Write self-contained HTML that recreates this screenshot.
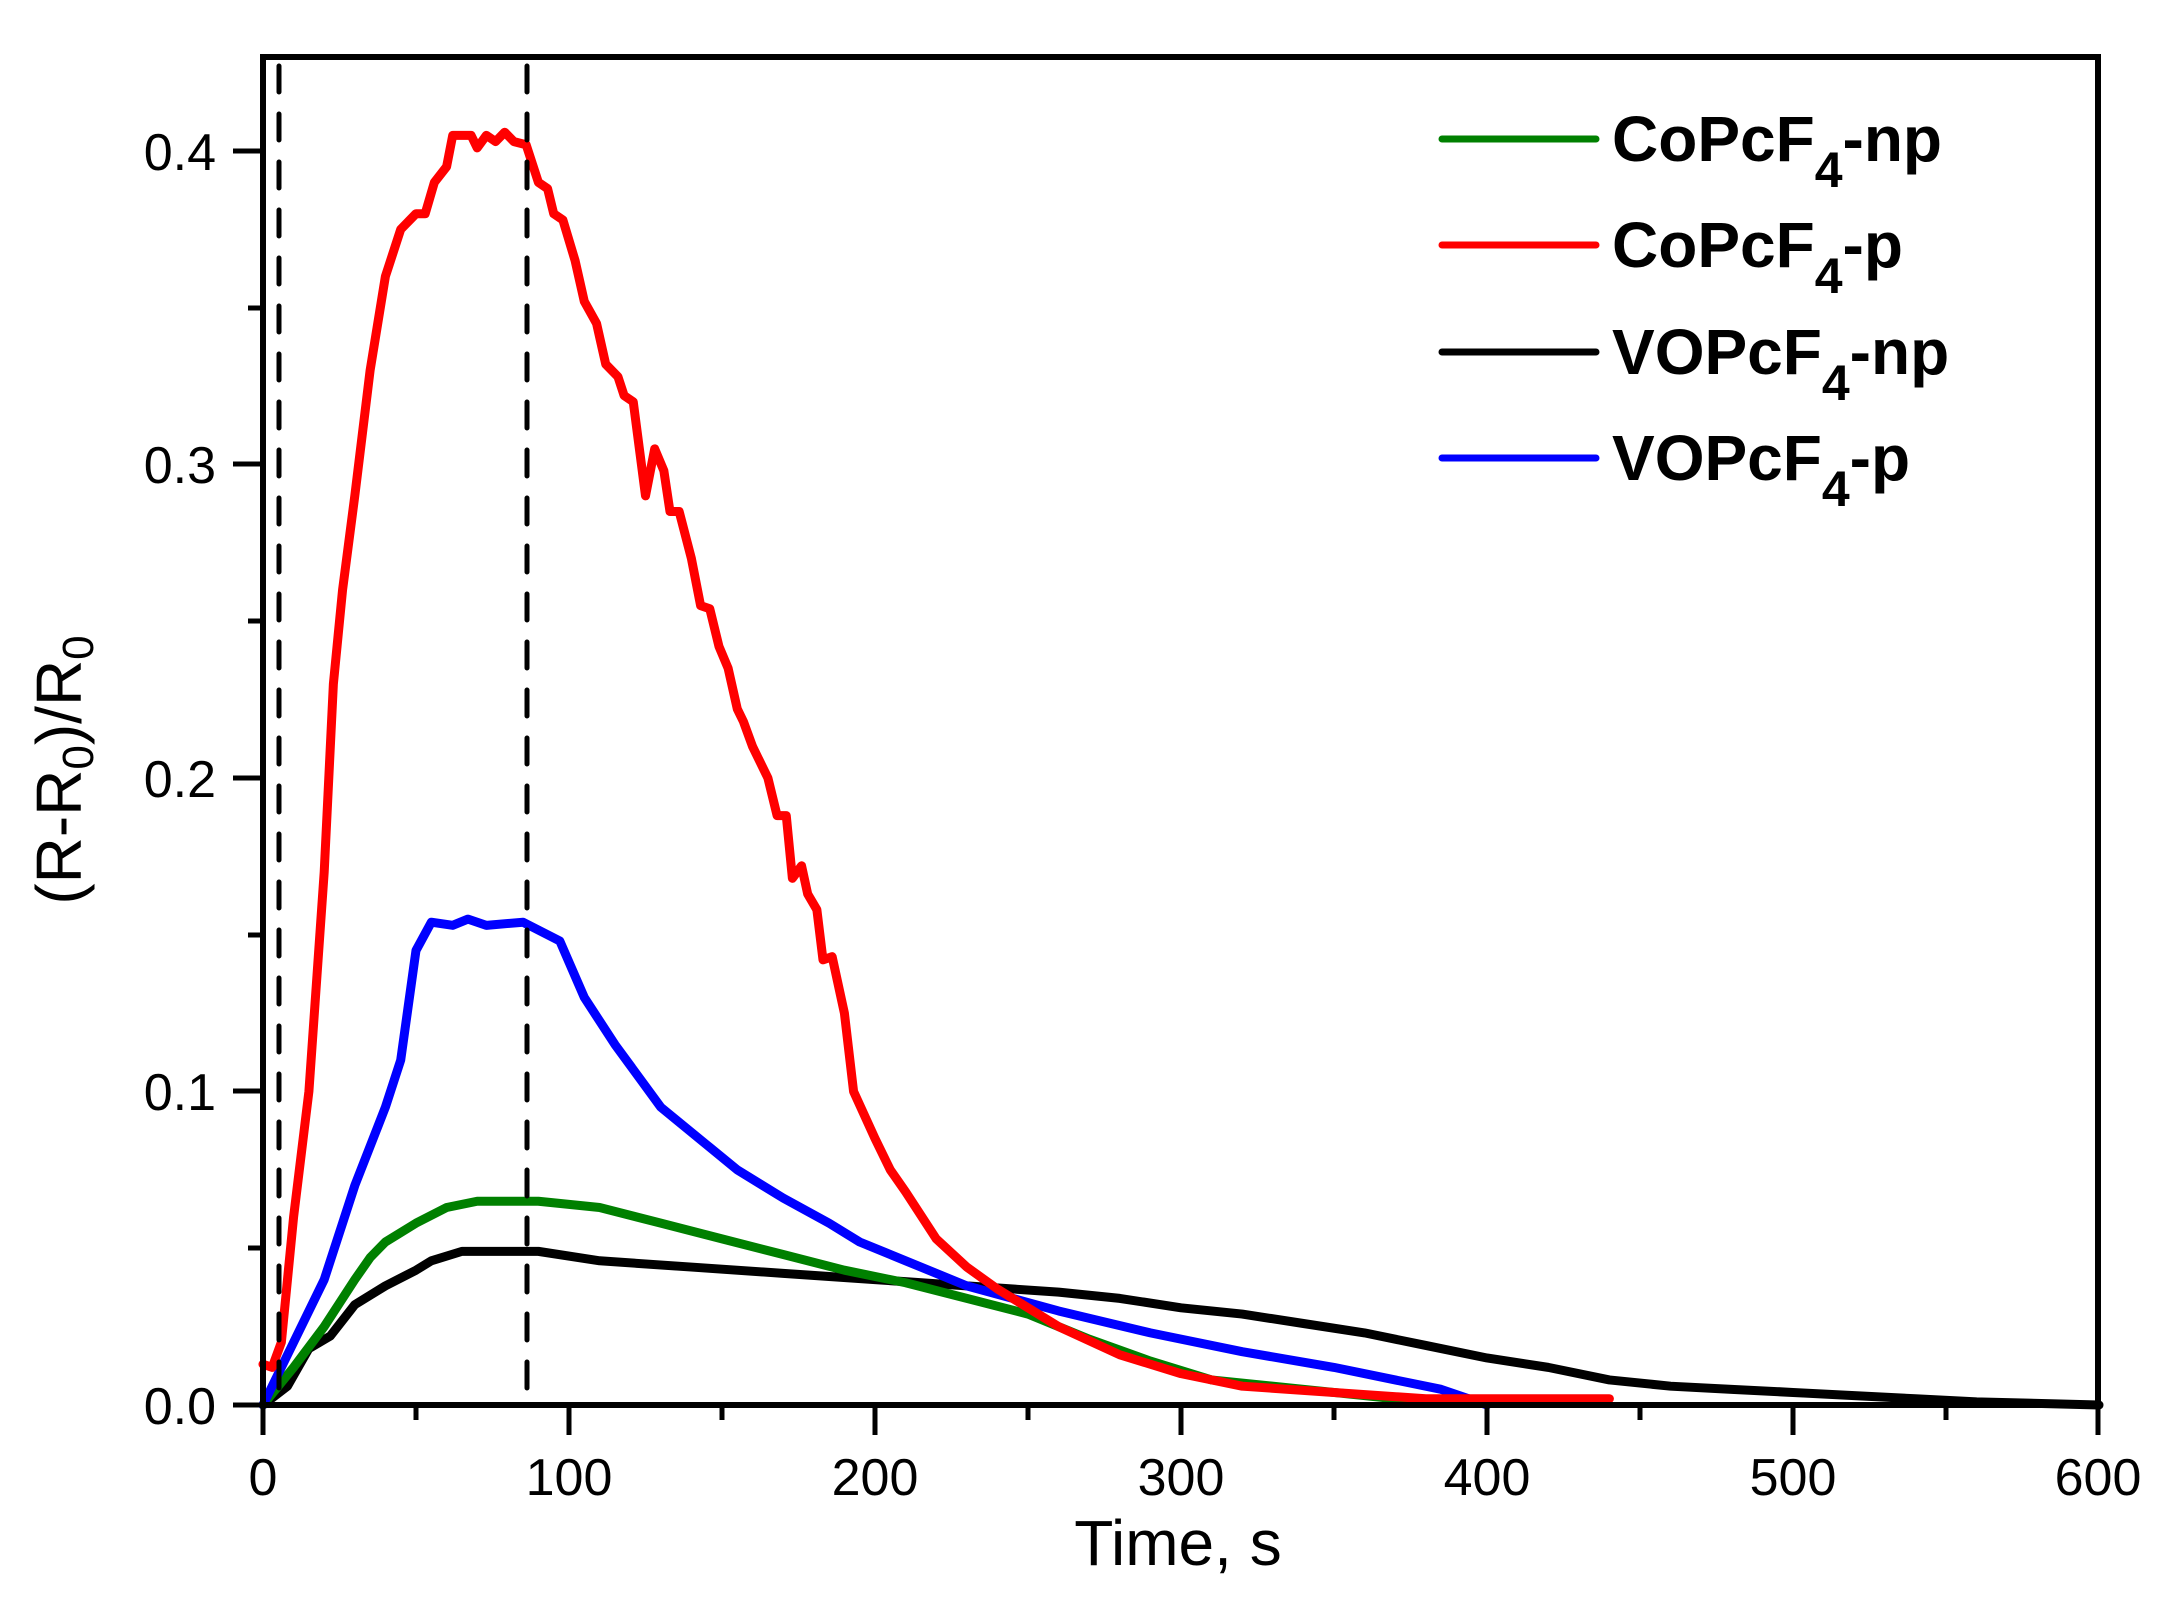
<!DOCTYPE html>
<html><head><meta charset="utf-8"><style>
html,body{margin:0;padding:0;background:#fff;}
svg{display:block;font-family:"Liberation Sans",Arial,sans-serif;}
</style></head><body>
<svg width="2168" height="1597" viewBox="0 0 2168 1597" xmlns="http://www.w3.org/2000/svg">
<rect width="2168" height="1597" fill="#fff"/>
<g transform="translate(263,1405) scale(3.06,-3135)" fill="none" stroke-width="9" stroke-linejoin="round" stroke-linecap="round">
<polyline vector-effect="non-scaling-stroke" stroke="#000" points="0,0 8,0.006 15,0.018 22,0.022 30,0.032 40,0.038 50,0.043 55,0.046 65,0.049 90,0.049 110,0.046 140,0.044 170,0.042 200,0.040 230,0.038 260,0.036 280,0.034 300,0.031 320,0.029 340,0.026 360,0.023 380,0.019 400,0.015 420,0.012 440,0.008 460,0.006 480,0.005 500,0.004 520,0.003 540,0.002 560,0.001 600,0"/>
<polyline vector-effect="non-scaling-stroke" stroke="#008000" points="0,0 10,0.012 20,0.025 30,0.04 35,0.047 40,0.052 50,0.058 60,0.063 70,0.065 90,0.065 110,0.063 130,0.058 150,0.053 170,0.048 190,0.043 210,0.039 230,0.034 250,0.029 270,0.021 290,0.014 310,0.008 340,0.005 370,0.002 380,0.001"/>
<polyline vector-effect="non-scaling-stroke" stroke="#0000ff" points="0,0 10,0.02 20,0.04 30,0.07 40,0.095 45,0.11 50,0.145 55,0.154 62,0.153 67,0.155 73,0.153 85,0.154 97,0.148 105,0.13 115,0.115 130,0.095 145,0.083 155,0.075 170,0.066 185,0.058 195,0.052 210,0.046 230,0.038 260,0.03 290,0.023 320,0.017 350,0.012 370,0.008 385,0.005 400,0"/>
<polyline vector-effect="non-scaling-stroke" stroke="#ff0000" points="0,0.013 3,0.012 6,0.02 10,0.06 15,0.1 20,0.17 23,0.23 26,0.26 30,0.29 35,0.33 40,0.36 45,0.375 50,0.38 53,0.38 56,0.39 60,0.395 62,0.405 68,0.405 70,0.401 73,0.405 76,0.403 79,0.406 82,0.403 86,0.402 90,0.39 93,0.388 95,0.38 98,0.378 102,0.365 105,0.352 109,0.345 112,0.332 116,0.328 118,0.322 121,0.32 123,0.305 125,0.29 128,0.305 131,0.298 133,0.285 136,0.285 140,0.27 143,0.255 146,0.254 149,0.242 152,0.235 155,0.222 157,0.218 160,0.21 165,0.2 168,0.188 171,0.188 173,0.168 176,0.172 178,0.163 181,0.158 183,0.142 186,0.143 190,0.125 193,0.1 200,0.085 205,0.075 210,0.068 220,0.053 230,0.044 240,0.037 260,0.025 280,0.016 300,0.01 320,0.006 350,0.004 380,0.002 400,0.002 440,0.002"/>
</g>
<g stroke="#000" stroke-width="5" stroke-dasharray="26,22" stroke-linecap="round">
<line x1="279" y1="66" x2="279" y2="1400"/>
<line x1="527" y1="66" x2="527" y2="1400"/>
</g>
<rect x="263" y="57" width="1835" height="1348" fill="none" stroke="#000" stroke-width="6"/>
<g stroke="#000" stroke-width="5">
<line x1="263" y1="1405" x2="263" y2="1435"/><line x1="569" y1="1405" x2="569" y2="1435"/><line x1="875" y1="1405" x2="875" y2="1435"/><line x1="1181" y1="1405" x2="1181" y2="1435"/><line x1="1487" y1="1405" x2="1487" y2="1435"/><line x1="1793" y1="1405" x2="1793" y2="1435"/><line x1="2098" y1="1405" x2="2098" y2="1435"/>
<line x1="416" y1="1405" x2="416" y2="1420"/><line x1="722" y1="1405" x2="722" y2="1420"/><line x1="1028" y1="1405" x2="1028" y2="1420"/><line x1="1334" y1="1405" x2="1334" y2="1420"/><line x1="1640" y1="1405" x2="1640" y2="1420"/><line x1="1946" y1="1405" x2="1946" y2="1420"/>
<line x1="233" y1="1405" x2="263" y2="1405"/><line x1="233" y1="1091" x2="263" y2="1091"/><line x1="233" y1="778" x2="263" y2="778"/><line x1="233" y1="464" x2="263" y2="464"/><line x1="233" y1="151" x2="263" y2="151"/>
<line x1="248" y1="1248" x2="263" y2="1248"/><line x1="248" y1="935" x2="263" y2="935"/><line x1="248" y1="621" x2="263" y2="621"/><line x1="248" y1="308" x2="263" y2="308"/>
</g>
<g font-size="52" fill="#000" text-anchor="middle">
<text x="263" y="1495">0</text><text x="569" y="1495">100</text><text x="875" y="1495">200</text><text x="1181" y="1495">300</text><text x="1487" y="1495">400</text><text x="1793" y="1495">500</text><text x="2098" y="1495">600</text>
</g>
<g font-size="52" fill="#000" text-anchor="end">
<text x="216" y="1424">0.0</text><text x="216" y="1110">0.1</text><text x="216" y="797">0.2</text><text x="216" y="483">0.3</text><text x="216" y="170">0.4</text>
</g>
<text x="1178" y="1565" font-size="64" text-anchor="middle">Time, s</text>
<text transform="translate(81,770) rotate(-90)" font-size="64" text-anchor="middle">(R-R<tspan font-size="44" dy="12">0</tspan><tspan dy="-12">)/R</tspan><tspan font-size="44" dy="12">0</tspan></text>
<g stroke-width="7" stroke-linecap="round">
<line x1="1442" y1="139" x2="1596" y2="139" stroke="#008000"/>
<line x1="1442" y1="245" x2="1596" y2="245" stroke="#ff0000"/>
<line x1="1442" y1="352" x2="1596" y2="352" stroke="#000"/>
<line x1="1442" y1="458" x2="1596" y2="458" stroke="#0000ff"/>
</g>
<g font-size="64" font-weight="bold" fill="#000">
<text x="1612" y="161">CoPcF<tspan font-size="50" dy="26">4</tspan><tspan dy="-26">-np</tspan></text>
<text x="1612" y="267">CoPcF<tspan font-size="50" dy="26">4</tspan><tspan dy="-26">-p</tspan></text>
<text x="1612" y="374">VOPcF<tspan font-size="50" dy="26">4</tspan><tspan dy="-26">-np</tspan></text>
<text x="1612" y="480">VOPcF<tspan font-size="50" dy="26">4</tspan><tspan dy="-26">-p</tspan></text>
</g>
</svg>
</body></html>
